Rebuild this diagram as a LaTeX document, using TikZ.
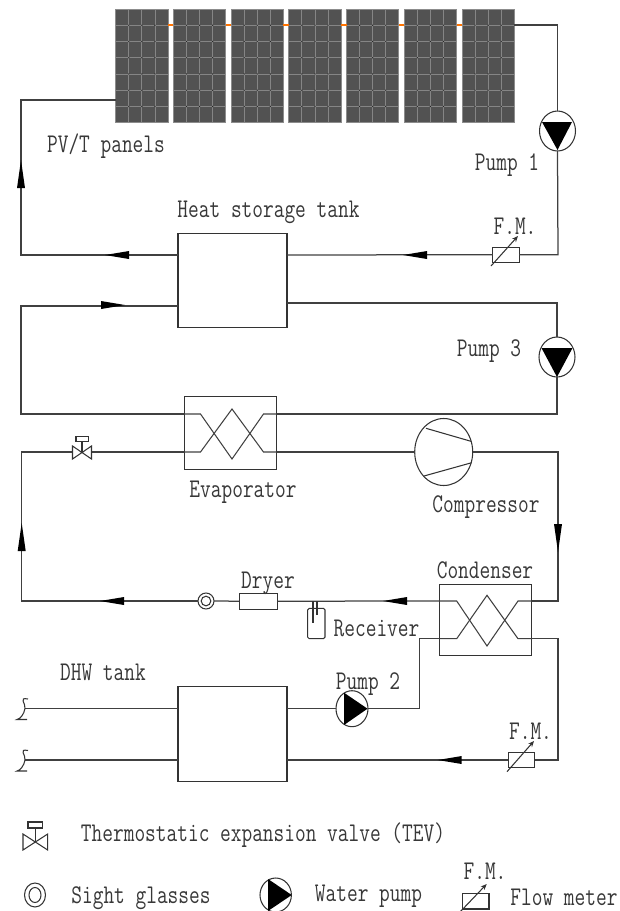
\documentclass[tikz,border=0pt]{standalone}
\usepackage{fontspec}
\usetikzlibrary{arrows.meta,shapes.geometric}
\setmonofont{Latin Modern Mono}[FakeStretch=0.77]
\tikzset{
 x=1pt,y=-1pt,
 pipe/.style={draw=black!75,line width=1.25pt},
 sym/.style={draw=black!80,line width=1.05pt},
 boxn/.style={draw=black!80,line width=1.05pt,inner sep=0pt,outer sep=0pt,rectangle},
 pumpn/.style={draw=black!80,line width=1.05pt,inner sep=0pt,outer sep=0pt,ellipse,fill=white},
 lab/.style={font=\fontsize{27}{29}\ttfamily,text=black!78,inner sep=0pt,anchor=base},
 mtr/.style={sym,-{Stealth[length=6pt,width=5pt]}},
}
\newcommand{\ArrL}[2]{\fill[black] (#1,#2) -- ++(24,-4) -- ++(0,8) -- cycle;}
\newcommand{\ArrU}[2]{\fill[black] (#1,#2) -- ++(-4,28) -- ++(8,0) -- cycle;}
\newcommand{\BoxAt}[6]{\node[boxn,#6,minimum width=#4pt,minimum height=#5pt] (#1) at (#2,#3) {};}
\newcommand{\Squig}[1]{\draw[sym] (28,{#1-9.5}) .. controls (18,{#1-11.5}) and (26,{#1-5}) .. (25,{#1}) .. controls (24,{#1+6}) and (20,{#1+10.5}) .. (17,{#1+11}) -- (27,{#1+11});}
\begin{document}
\begin{tikzpicture}
\useasboundingbox (0,0) rectangle (620,911);
\clip (0,0) rectangle (620,911);
% panels
\foreach \i in {0,...,6}{
 \begin{scope}[shift={({115.7+57.7*\i},9)}]
  \fill[black!68] (0,0) rectangle (52.3,113.7);
  \foreach \c in {1,2,3} \draw[black!48,line width=0.8pt] ({13.08*\c},0) -- ({13.08*\c},113.7);
  \foreach \r in {1,...,6} \draw[black!48,line width=0.8pt] (0,{16.24*\r}) -- (52.3,{16.24*\r});
  \foreach \c in {1,2,3} \foreach \r in {1,...,6} \fill[black!85] ({13.08*\c},{16.24*\r}) circle [radius=.7];
  \draw[black!45,line width=0.8pt] (0,0) rectangle (52.3,113.7);
 \end{scope}
}
\foreach \i in {0,...,5}
 \draw[orange!90!red,line width=1.3pt] ({168+57.7*\i},25) -- ({173.4+57.7*\i},25);
% equipment
\BoxAt{tank1}{232.5}{280.7}{109}{94.5}{}
\BoxAt{tank2}{232.5}{734.3}{109}{95}{}
\BoxAt{evap}{230.4}{433}{92.7}{72.6}{}
\BoxAt{cond}{485.5}{619.7}{92.4}{71.3}{}
\BoxAt{dryer}{258.2}{601.2}{38.3}{15.7}{}
\BoxAt{fm1}{505.9}{254.7}{26.3}{15.3}{fill=white}
\BoxAt{fm2}{521.5}{760}{26.4}{15.4}{fill=white}
\node[pumpn,minimum width=36pt,minimum height=40pt] (pump1) at (557.5,131) {};
\node[pumpn,minimum width=36pt,minimum height=40pt] (pump3) at (557,357) {};
\node[pumpn,minimum width=32pt,minimum height=36pt] (pump2) at (352,708.7) {};
\node[pumpn,minimum width=58pt,minimum height=67pt] (comp) at (443.7,452) {};
\node[draw=black!80,line width=1.05pt,circle,inner sep=0pt,outer sep=0pt,minimum size=16pt] (sight) at (206,601) {};
\draw[sym] (sight.center) circle [radius=4.8];
% ports
\coordinate (panelL) at (116,100);
\coordinate (panelR) at (514,25);
\coordinate (t1a) at (178,255);
\coordinate (t1b) at (287,255);
\coordinate (t1c) at (178,306);
\coordinate (t1d) at (287,303);
\coordinate (valveL) at (72.5,452);
\coordinate (valveR) at (91.5,452);
\coordinate (evU) at (184,414);
\coordinate (evUr) at (277,414);
\coordinate (evL) at (184,452);
\coordinate (evLr) at (277,452);
\coordinate (coU) at (439.3,601);
\coordinate (coUr) at (532,601);
\coordinate (coLl) at (439.3,638.7);
\coordinate (coLr) at (532,638.7);
\coordinate (t2a) at (178,708.5);
\coordinate (t2b) at (287,708.7);
\coordinate (t2c) at (178,760);
\coordinate (t2d) at (287,760);
\coordinate (s1) at (25,708.5);
\coordinate (s2) at (25,760);
% loop 1
\draw[pipe] (panelL) -- (21,100) -- (21,255) -- (t1a);
\draw[pipe] (t1b) -- (fm1.west);
\draw[pipe] (fm1.east) -- (558,254.7) -- (pump1.south);
\draw[pipe] (pump1.north) -- (557.5,25) -- (panelR);
\ArrU{21}{160}
\ArrL{105}{255}
\ArrL{403}{255}
% loop 2
\draw[pipe] (t1c) -- (21,306) -- (21,414) -- (evU);
\draw[pipe] (t1d) -- (557,303) -- (pump3.north);
\draw[pipe] (pump3.south) -- (557,414) -- (evUr);
\fill[black] (125,305) -- ++(-24,-4) -- ++(0,8) -- cycle;
% evaporator coil
\draw[pipe,line width=1.05pt] (evU) -- (200.5,414) -- (232,459) -- (263.5,414) -- (evUr);
\draw[pipe,line width=1.05pt] (evL) -- (200.5,452) -- (232,409) -- (263.5,452) -- (evLr);
% loop 3
\draw[pipe] (valveR) -- (evL);
\draw[pipe] (evLr) -- (comp.west);
\draw[pipe] (comp.east) -- (558,452) -- (558,601) -- (coUr);
\draw[pipe] (valveL) -- (21.7,452) -- (21.7,601) -- (sight.west);
\draw[pipe] (sight.east) -- (dryer.west);
\draw[pipe] (dryer.east) -- (coU);
\fill[black] (558,552) -- ++(-4,-28) -- ++(8,0) -- cycle;
\ArrL{383}{601}
\ArrL{100}{601}
\ArrU{21.7}{523}
% compressor vanes
\draw[sym] (426,428.3) -- (471,441.3);
\draw[sym] (424,476) -- (471.7,462.7);
% valve
\draw[sym] (72.5,446) -- (91.5,459) -- (91.5,446) -- (72.5,459) -- cycle;
\draw[sym] (82,452.5) -- (82,441.7);
\draw[sym] (76,436.3) rectangle (88.3,441.7);
% receiver
\draw[sym,rounded corners=1.5pt] (307.7,608.3) rectangle (325,638.7);
\draw[sym] (313,601) -- (313,622.7);
\draw[sym] (317,601) -- (317,615);
% condenser coil
\draw[pipe,line width=1.05pt] (coU) -- (456.7,601) -- (487,646) -- (518,601) -- (coUr);
\draw[pipe,line width=1.05pt] (coLl) -- (456.7,638.7) -- (487,595.3) -- (518,638.7) -- (coLr);
% DHW loop
\draw[pipe] (coLl) -- (419.3,638.7) -- (419.3,708.7) -- (pump2.east);
\draw[pipe] (pump2.west) -- (t2b);
\draw[pipe] (coLr) -- (558,638.7) -- (558,760) -- (fm2.east);
\draw[pipe] (fm2.west) -- (t2d);
\ArrL{437.7}{760}
\draw[pipe] (s1) -- (t2a);
\draw[pipe] (s2) -- (t2c);
\Squig{708.5}
\Squig{760}
% pump triangles
\fill[black] (542,122) -- (572,122) -- (557.5,150) -- cycle;
\fill[black] (541.5,348) -- (572.5,348) -- (557,377) -- cycle;
\fill[black] (344,692.7) -- (344,725) -- (367.5,708.7) -- cycle;
% flow meter arrows
\draw[mtr] (491,266) -- (518,236);
\draw[mtr] (507,771.7) -- (534,741);
% labels
\node[lab] (l1) at (106,152.7) {PV/T panels};
\node[lab] (l2) at (268.5,217) {Heat storage tank};
\node[lab] (l3) at (507,170.7) {Pump 1};
\node[lab] (l4) at (515,234) {F.M.};
\node[lab] (l5) at (489,356) {Pump 3};
\node[lab] (l6) at (243,497.3) {Evaporator};
\node[lab] (l7) at (486,512) {Compressor};
\node[lab] (l8) at (485,578.3) {Condenser};
\node[lab] (l9) at (268,588) {Dryer};
\node[lab] (l10) at (376.5,636) {Receiver};
\node[lab] (l11) at (368,689) {Pump 2};
\node[lab] (l12) at (103,680.7) {DHW tank};
\node[lab] (l13) at (530.5,739.3) {F.M.};
% legend
\draw[sym] (23,834) -- (47.7,850) -- (47.7,834) -- (23,850) -- cycle;
\draw[sym] (35.3,842) -- (35.3,828);
\draw[sym] (28,822) rectangle (42.3,828);
\draw[sym] (35,895) ellipse [x radius=10.5,y radius=12];
\draw[sym] (35,895) ellipse [x radius=6,y radius=7.5];
\node[pumpn,minimum width=31.4pt,minimum height=34pt] (lp) at (275.7,895) {};
\fill[black] (268,879) -- (268,911) -- (291.7,895) -- cycle;
\draw[sym] (462.7,893.3) rectangle (489,909);
\draw[mtr] (460,912) -- (486.7,884);
\node[lab] (l14) at (263,841.7) {Thermostatic expansion valve (TEV)};
\node[lab] (l15) at (141,903.3) {Sight glasses};
\node[lab] (l16) at (368.5,901.7) {Water pump};
\node[lab] (l17) at (485,879.3) {F.M.};
\node[lab] (l18) at (564,905) {Flow meter};
\end{tikzpicture}
\end{document}
